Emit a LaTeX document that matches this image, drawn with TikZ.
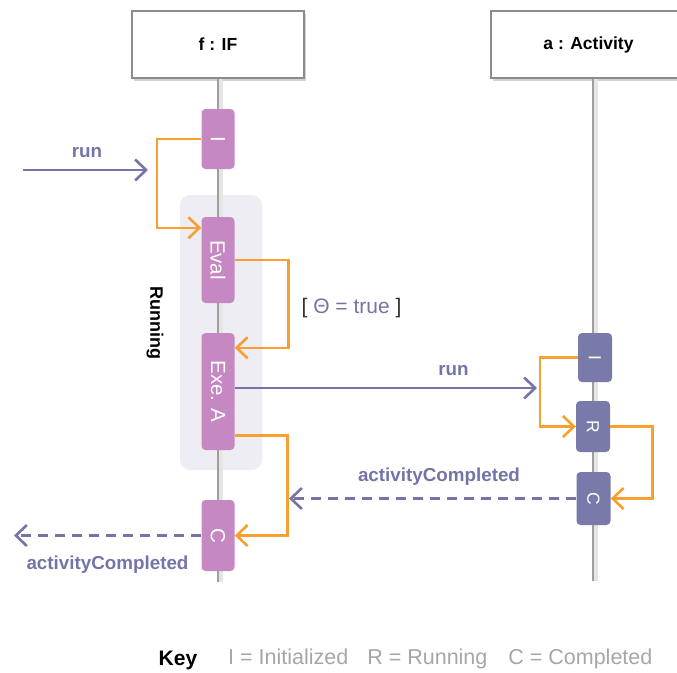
\documentclass[tikz,border=0pt]{standalone}
\usepackage{fontspec}
\setmainfont{Liberation Sans}
\usepackage{graphicx}
\usetikzlibrary{arrows.meta,shadows}
\definecolor{actpink}{HTML}{C688C2}
\definecolor{actslate}{HTML}{7A7AAA}
\definecolor{msgblue}{HTML}{7474A8}
\definecolor{flowor}{HTML}{F7A02E}
\definecolor{runbg}{HTML}{EDEDF3}

\begin{document}
\begin{tikzpicture}[x=1pt, y=-1pt, every node/.style={font=\fontsize{18}{20}\selectfont}, >={Straight Barb[length=11pt,width=21pt]},
	head/.style={draw=gray!90, line width=1.3pt, fill=white, minimum height=67pt, drop shadow={shadow xshift=2pt, shadow yshift=-2.5pt, opacity=.35}, font=\bfseries\fontsize{17.5}{20}\selectfont},
	life/.style={gray!75, line width=2pt},
	lifeshade/.style={gray!20, line width=4pt},
	fact/.style={fill=actpink, rounded corners=4pt, minimum width=33pt, inner sep=0pt, text=white, font=\fontsize{20.5}{22}\selectfont},
	aact/.style={fill=actslate, rounded corners=4pt, minimum width=34pt, inner sep=0pt, text=white, font=\fontsize{17.5}{20}\selectfont},
	flow/.style={flowor, line width=2.6pt},
	msg/.style={msgblue, line width=2.6pt},
	reply/.style={msgblue, line width=2.6pt, dash pattern=on 10pt off 7pt},
	lbl/.style={text=msgblue, font=\bfseries\fontsize{18.8}{21}\selectfont}]
	\useasboundingbox (0,0) rectangle (677,672);
	\node[fill=runbg, rounded corners=10pt, minimum width=82pt, minimum height=275pt] (runbox) at (221,332.5) {};
	\node[rotate=-90, font=\bfseries\fontsize{18}{20}\selectfont] (runlbl) at (155,323) {Running};
	\node[head, minimum width=172pt] (fhead) at (218,44.5) {f : IF};
	\node[head, minimum width=195pt] (ahead) at (588.5,44.5) {a : Activity};
	\coordinate (fend) at (218,582);
	\coordinate (atop) at (593,78.5);
	\coordinate (aend) at (593,581);
	\draw[lifeshade] ([xshift=3pt]fhead.south) -- ([xshift=3pt]fend);
	\draw[life] (fhead.south) -- (fend);
	\draw[lifeshade] ([xshift=3pt]atop) -- ([xshift=3pt]aend);
	\draw[life] (atop) -- (aend);
	\node[fact, minimum height=60pt] (fI) at (218,139) {\rotatebox{-90}{I}};
	\node[fact, minimum height=86pt] (fEval) at (218,260) {\rotatebox{-90}{Eval}};
	\node[fact, minimum height=117pt] (fExe) at (218,391.5) {\rotatebox{-90}{Exe. A}};
	\node[fact, minimum height=71pt] (fC) at (218,535.5) {\rotatebox{-90}{C}};
	\node[aact, minimum height=49pt] (aI) at (595,357.5) {\rotatebox{-90}{I}};
	\node[aact, minimum height=51pt] (aR) at (593,426.5) {\rotatebox{-90}{R}};
	\node[aact, minimum height=53pt] (aC) at (593.5,498.5) {\rotatebox{-90}{C}};
	\draw[flow, ->] (fI.west) -- ++(-44.5,0) |- ([yshift=-11pt]fEval.north west);
	\draw[flow, ->] (fEval.east) -- ++(53.5,0) |- ([yshift=-15pt]fExe.north east);
	\draw[flow, ->] ([yshift=15pt]fExe.south east) -- ++(53,0) |- (fC.east);
	\draw[flow, ->] (aI.west) -- ++(-38,0) |- (aR.west);
	\draw[flow, ->] (aR.east) -- ++(42,0) |- (aC.east);
	\node[font=\fontsize{21}{23}\selectfont, text=black!80] (guard) at (351.5,308) {[ \textcolor{msgblue}{Θ = true} ]};
	\coordinate (runsrc) at (23,170);
	\coordinate (runtip) at (148,170);
	\draw[msg, ->] (runsrc) -- (runtip);
	\node[lbl] (runlbl1) at (87,152.5) {run};
	\coordinate (arunin) at (537,388);
	\draw[msg, ->] (fExe.east |- arunin) -- (arunin);
	\node[lbl] (runlbl2) at (453.5,371) {run};
	\coordinate (aretn) at (289,498.5);
	\draw[reply, ->] (aC.west) -- (aretn);
	\node[lbl] (donelbl1) at (439,477) {activityCompleted};
	\coordinate (fretn) at (14,535.5);
	\draw[reply, ->] (fC.west) -- (fretn);
	\node[lbl] (donelbl2) at (107.5,565) {activityCompleted};
	\node[font=\bfseries\fontsize{21}{24}\selectfont] (keylbl) at (178,660) {Key};
	\node[anchor=west, inner sep=0pt, text=gray!70, font=\fontsize{21.5}{24}\selectfont] (keytxt) at (228,659) {I = Initialized\hspace{19pt}R = Running\hspace{21pt}C = Completed};
\end{tikzpicture}
\end{document}
